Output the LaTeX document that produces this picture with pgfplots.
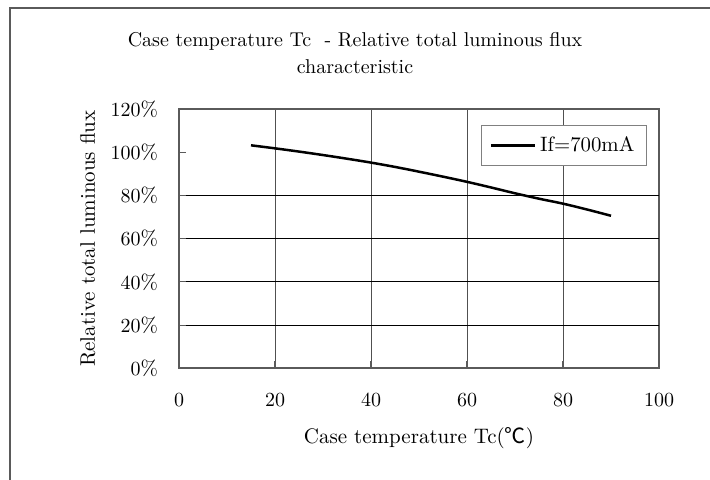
\documentclass[border=0pt]{standalone}
\usepackage{fontspec}
\usepackage{pgfplots}
\pgfplotsset{compat=1.18}
\newfontfamily\cjk{Noto Sans CJK JP}
\definecolor{framegray}{RGB}{90,90,90}
\definecolor{gridgray}{RGB}{80,80,80}
\begin{document}
\begin{tikzpicture}
\useasboundingbox (0,0) rectangle (355pt,-239.5pt);
\draw[line width=1pt, framegray] (5pt,-250pt) -- (5pt,-4pt) -- (370pt,-4pt);
\node[anchor=base] at (177.5pt,-23pt) {Case temperature Tc\ \ - Relative total luminous flux};
\node[anchor=base] at (177.5pt,-36.5pt) {characteristic};
\begin{axis}[
  scale only axis,
  width=240pt, height=129.65pt,
  at={(89.5pt,-184.15pt)}, anchor=south west,
  xmin=0, xmax=100, ymin=0, ymax=120,
  xtick={0,20,40,60,80,100},
  ytick={0,20,40,60,80,100,120},
  yticklabel={\pgfmathprintnumber{\tick}\%},
  xticklabel style={yshift=-9pt},
  yticklabel style={xshift=-7pt},
  tick label style={font=\fontsize{10.4}{12}\selectfont},
  tick pos=left, tick align=inside,
  major tick length=3.5pt,
  tick style={framegray, line width=0.6pt},
  axis line style={framegray, line width=1pt},
  xmajorgrids, major grid style={gridgray, line width=0.5pt},
  extra y ticks={20,40,60,80},
  extra y tick labels={},
  extra y tick style={grid=major, major grid style={black, line width=0.5pt}},
  xlabel={Case temperature Tc({\cjk ℃})},
  xlabel style={at={(axis description cs:0.5,-0.27)}, anchor=center, font=\fontsize{10.5}{12}\selectfont},
  ylabel={Relative total luminous flux},
  ylabel style={at={(axis description cs:-0.19,0.5)}, anchor=center, font=\fontsize{10.5}{12}\selectfont},
  legend style={at={(axis description cs:0.975,0.938)}, anchor=north east,
    draw=gray, fill=white, line width=0.6pt, inner xsep=4pt, inner ysep=3.5pt,
    font=\fontsize{10.4}{12}\selectfont},
  legend image code/.code={\draw[#1, line width=1.25pt] (0pt,0pt) -- (22pt,0pt);},
]
\addplot[black, line width=1.25pt, smooth] coordinates {
(15,103.2) (20,101.8) (25,100.3) (30,98.7) (35,97.0) (40,95.2) (45,93.2)
(50,91.0) (55,88.7) (60,86.3) (65,83.7) (70,81.0) (75,78.5) (80,76.2)
(85,73.5) (90,70.6)
};
\addlegendentry{If=700mA}
\end{axis}
\end{tikzpicture}
\end{document}
